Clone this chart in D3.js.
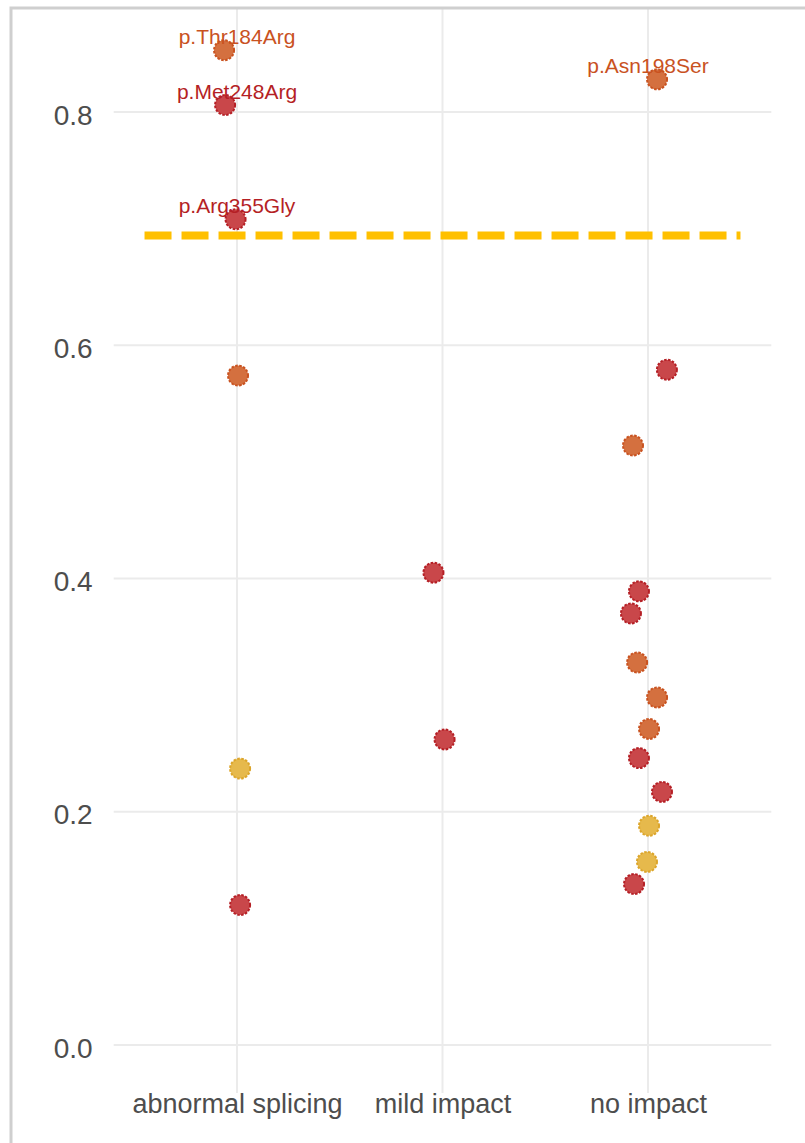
<!DOCTYPE html>
<meta charset="utf-8">
<style>
body { margin: 0; background: #fff; }
svg { display: block; font-family: "Liberation Sans", Arial, sans-serif; }
.grid line { stroke: #ebebeb; stroke-width: 2; }
.axis text { fill: #4d4d4d; }
.axis path, .axis line { display: none; }
</style>
<svg width="805" height="1143"></svg>
<script src="https://d3js.org/d3.v7.min.js"></script>
<script>

var categories = ["abnormal splicing", "mild impact", "no impact"];
var yTicks = [0, 0.2, 0.4, 0.6, 0.8];
var threshold = 0.694;

// one entry per variant
var pointCategory = [0, 0, 0, 0, 0, 0,
                     1, 1,
                     2, 2, 2, 2, 2, 2, 2, 2, 2, 2, 2, 2, 2];
var pointValue = [0.853, 0.806, 0.708, 0.574, 0.237, 0.120,
                  0.405, 0.262,
                  0.828, 0.579, 0.514, 0.389, 0.370, 0.328, 0.298, 0.271, 0.246, 0.217, 0.188, 0.157, 0.138];
var pointJitter = [-0.063, -0.058, -0.007, 0.005, 0.015, 0.015,
                   -0.044, 0.010,
                   0.044, 0.092, -0.073, -0.044, -0.083, -0.053, 0.044, 0.005, -0.044, 0.068, 0.005, -0.005, -0.068];
var pointGroup = ["mid", "high", "high", "mid", "low", "high",
                  "high", "high",
                  "mid", "high", "mid", "high", "high", "mid", "mid", "mid", "high", "high", "low", "low", "high"];
var pointLabel = ["p.Thr184Arg", "p.Met248Arg", "p.Arg355Gly", "", "", "",
                  "", "",
                  "p.Asn198Ser", "", "", "", "", "", "", "", "", "", "", "", ""];

var groupFill = {high: "#c9474a", mid: "#d4703f", low: "#e6b94c"};
var groupStroke = {high: "#b51f25", mid: "#c9521f", low: "#dca52a"};

var points = pointValue.map(function(v, i) {
  return {cat: pointCategory[i], value: v, jitter: pointJitter[i],
          group: pointGroup[i], label: pointLabel[i]};
});

var svg = d3.select("svg");

var x = d3.scaleLinear().domain([-0.6, 2.6]).range([113.7, 771.3]),
    y = d3.scaleLinear().domain([0, 0.8]).range([1045, 112]);

var panelTop = 8, panelBottom = 1093;

// grid
var grid = svg.append("g").attr("class", "grid");
grid.selectAll(".h")
  .data(yTicks)
  .enter().append("line")
    .attr("x1", x(-0.6)).attr("x2", x(2.6))
    .attr("y1", function(d) { return y(d); })
    .attr("y2", function(d) { return y(d); });
grid.selectAll(".v")
  .data(categories)
  .enter().append("line")
    .attr("x1", function(d, i) { return x(i); })
    .attr("x2", function(d, i) { return x(i); })
    .attr("y1", panelTop).attr("y2", panelBottom);

// axes
svg.append("g")
    .attr("class", "axis axis--y")
    .attr("transform", "translate(" + (x(-0.6) - 21) + ",0)")
    .call(d3.axisLeft(y).tickValues(yTicks).tickSize(0).tickPadding(0).tickFormat(d3.format(".1f")))
  .selectAll("text")
    .style("font-size", "28px")
    .attr("dy", "0.43em");

var xAxisScale = d3.scalePoint().domain(categories).range([x(0), x(2)]);
svg.append("g")
    .attr("class", "axis axis--x")
    .attr("transform", "translate(0,1113)")
    .call(d3.axisBottom(xAxisScale).tickSize(0).tickPadding(0))
  .selectAll("text")
    .style("font-size", "27px")
    .attr("y", 0)
    .attr("dy", 0);

// threshold
svg.append("line")
    .attr("x1", x(-0.45)).attr("x2", x(2.45))
    .attr("y1", y(threshold)).attr("y2", y(threshold))
    .attr("stroke", "#ffc000")
    .attr("stroke-width", 8)
    .attr("stroke-dasharray", "27,10");

// points
svg.selectAll(".dot")
  .data(points)
  .enter().append("circle")
    .attr("class", "dot")
    .attr("cx", function(d) { return x(d.cat + d.jitter); })
    .attr("cy", function(d) { return y(d.value); })
    .attr("r", 10)
    .attr("fill", function(d) { return groupFill[d.group]; })
    .attr("stroke", function(d) { return groupStroke[d.group]; })
    .attr("stroke-width", 2)
    .attr("stroke-dasharray", "2.5,1.5");

// labels
svg.selectAll(".lab")
  .data(points.filter(function(d) { return d.label; }))
  .enter().append("text")
    .attr("class", "lab")
    .attr("x", function(d) { return x(d.cat); })
    .attr("y", function(d) { return y(d.value) - 6; })
    .attr("text-anchor", "middle")
    .style("font-size", "21px")
    .attr("fill", function(d) { return groupStroke[d.group]; })
    .text(function(d) { return d.label; });

// frame
svg.append("path")
    .attr("d", "M11,1143V8H805")
    .attr("fill", "none")
    .attr("stroke", "#cfcfcf")
    .attr("stroke-width", 3);

</script>
